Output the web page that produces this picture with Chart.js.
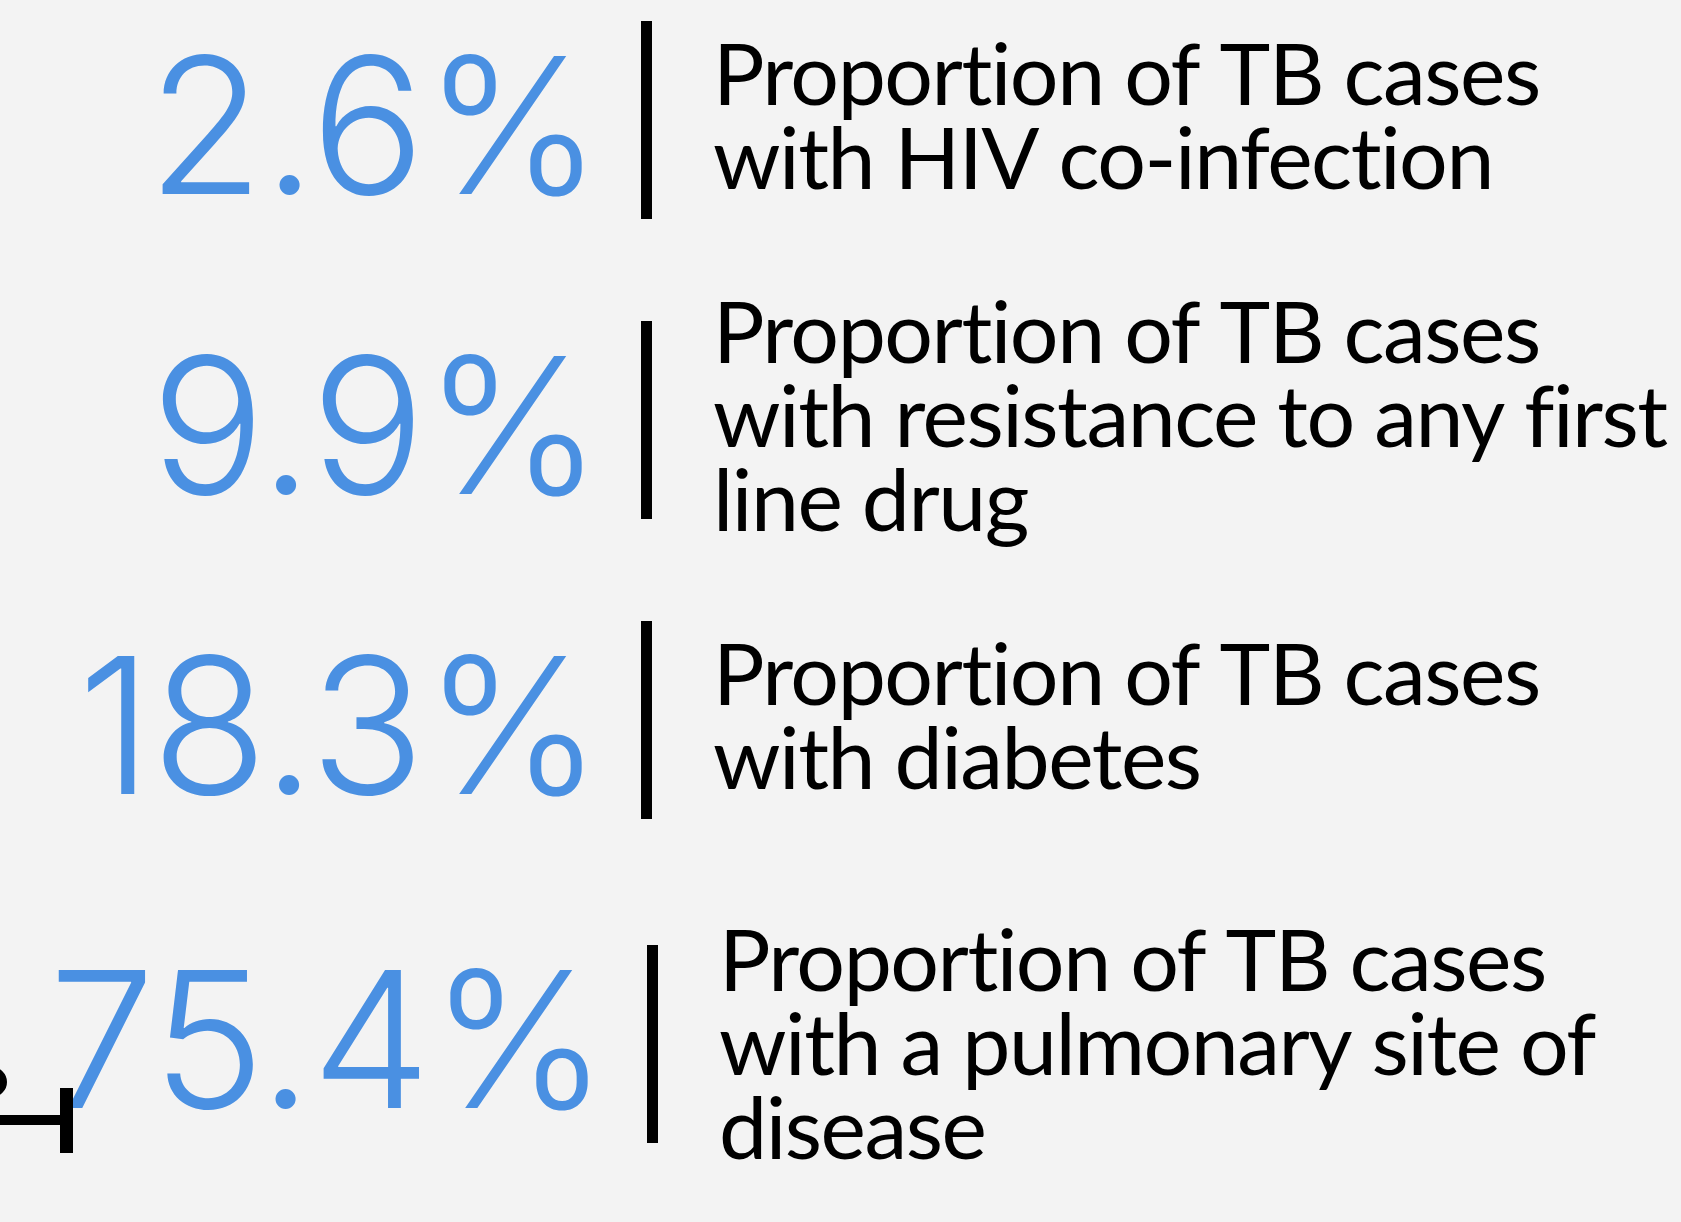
<!DOCTYPE html>
<html>
<head>
<meta charset="utf-8">
<script src="https://cdn.jsdelivr.net/npm/chart.js@4.4.1/dist/chart.umd.min.js"></script>
<style>
  html, body { margin:0; padding:0; background:#f3f3f3; }
  #wrap { width:1681px; height:1222px; position:relative; }
</style>
</head>
<body>
<div id="wrap"><canvas id="stats"></canvas></div>
<script>
// Data
const rowKeys = ['hiv', 'resistance', 'diabetes', 'pulmonary'];
const percentValues = [2.6, 9.9, 18.3, 75.4];
const labelLines = [
  ['Proportion of TB cases', 'with HIV co-infection'],
  ['Proportion of TB cases', 'with resistance to any first', 'line drug'],
  ['Proportion of TB cases', 'with diabetes'],
  ['Proportion of TB cases', 'with a pulmonary site of', 'disease']
];

const BLUE = '#4a90e2';
const numFont = '300 190px Inter, "Open Sans", sans-serif';
const txtFont = '400 86px Lato, "Open Sans", sans-serif';

// Stat rows plugin: numbers, divider, label text
const statRows = {
  id: 'statRows',
  afterDatasetsDraw(chart){
    const ctx = chart.ctx;
    const y = chart.scales.y;
    const dividerX = 641, dividerW = 11, dividerH = 198;
    ctx.save();
    rowKeys.forEach((k, i)=>{
      const last = i === rowKeys.length - 1;
      const nx = last ? 6 : 0, ny = last ? 24 : 0;
      const cy = y.getPixelForValue(i) + ny;
      const bx = dividerX + nx;

      // divider
      ctx.fillStyle = '#000';
      ctx.fillRect(bx, cy - dividerH/2, dividerW, dividerH);

      // big number
      const capH = 140;
      ctx.font = numFont;
      ctx.letterSpacing = '-1px';
      ctx.fillStyle = BLUE;
      ctx.textAlign = 'right';
      ctx.textBaseline = 'alphabetic';
      ctx.fillText(percentValues[i].toFixed(1) + '%', bx - 40, cy + capH/2 + (last ? -6 : 4));

      // label lines (letterSpacing also keeps Lato from joining "ti")
      const lines = labelLines[i];
      const lh = 84, cap = 62;
      const blockH = cap + lh * (lines.length - 1);
      const firstBase = cy - blockH/2 + cap - (last ? 0 : 4);
      ctx.font = txtFont;
      ctx.letterSpacing = '-1.5px';
      ctx.fillStyle = '#000';
      ctx.textAlign = 'left';
      lines.forEach((t, j)=> ctx.fillText(t, bx + 72, firstBase + j*lh));
    });
    ctx.letterSpacing = '0px';

    // cut-off fragment at bottom left
    ctx.fillStyle = '#000';
    ctx.fillRect(0, 1115, 66, 10);
    ctx.fillRect(60, 1088, 13, 65);
    ctx.lineWidth = 8;
    ctx.strokeStyle = '#000';
    ctx.beginPath();
    ctx.arc(-8, 1082, 11, -Math.PI/2, Math.PI/2);
    ctx.stroke();
    ctx.restore();
  }
};

new Chart(document.getElementById('stats'), {
  type: 'bar',
  data: {
    labels: rowKeys,
    datasets: [{ data: percentValues, backgroundColor: 'rgba(0,0,0,0)' }]
  },
  options: {
    indexAxis: 'y',
    responsive: true,
    maintainAspectRatio: false,
    animation: false,
    layout: { padding: { top: 120, bottom: 202, left: 0, right: 0 } },
    plugins: { legend: { display:false }, tooltip: { enabled:false } },
    scales: {
      x: { display:false, min:0, max:100 },
      y: { type:'category', display:false, offset:false }
    }
  },
  plugins: [statRows]
});
</script>
</body>
</html>
